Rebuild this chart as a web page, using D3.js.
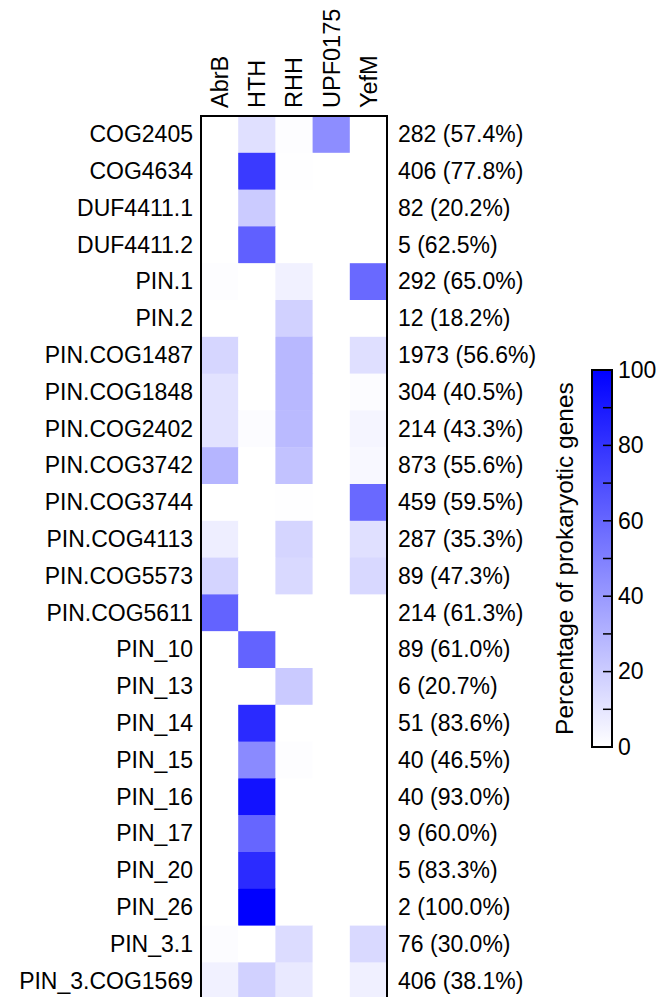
<!DOCTYPE html>
<html><head><meta charset="utf-8">
<script src="https://cdn.jsdelivr.net/npm/d3@7"></script>
<style>body{margin:0;background:#fff}svg{display:block}text{font-family:"Liberation Sans",Arial,sans-serif;fill:#000}</style>
</head><body><svg id="c" width="666" height="997"></svg>
<script>
const columns = ["AbrB","HTH","RHH","UPF0175","YefM"];
const rows = ["COG2405","COG4634","DUF4411.1","DUF4411.2","PIN.1","PIN.2","PIN.COG1487","PIN.COG1848","PIN.COG2402","PIN.COG3742","PIN.COG3744","PIN.COG4113","PIN.COG5573","PIN.COG5611","PIN_10","PIN_13","PIN_14","PIN_15","PIN_16","PIN_17","PIN_20","PIN_26","PIN_3.1","PIN_3.COG1569"];
const abrB    = [0,0,0,0,0.8,0,16,11.5,11.5,29,0,6.5,17,61.3,0,0,0,0,0,0,0,0,1.2,5.5];
const hth     = [12,77.3,20.2,62.5,0,0,0,0,1,0,0,0,0,0,61,0,83.6,45.8,93,60,83.3,100,0,18];
const rhh     = [0.8,0.5,0,0,5.5,18.2,28,28,27,23.8,0.5,16.5,15,0,0,20.7,0,0.7,0,0,0,0,13.8,8.8];
const upf0175 = [44.6,0,0,0,0,0,0,0,0,0,0,0,0,0,0,0,0,0,0,0,0,0,0,0];
const yefM    = [0,0,0,0,58.7,0,12.6,1,3.8,2.8,59,12.3,15.3,0,0,0,0,0,0,0,0,0,15,5.8];
const counts  = [282,406,82,5,292,12,1973,304,214,873,459,287,89,214,89,6,51,40,40,9,5,2,76,406];
const percents= ["57.4","77.8","20.2","62.5","65.0","18.2","56.6","40.5","43.3","55.6","59.5","35.3","47.3","61.3","61.0","20.7","83.6","46.5","93.0","60.0","83.3","100.0","30.0","38.1"];
const colorbarTicks = [0,20,40,60,80,100];
const colorbarMinorTicks = [10,30,50,70,90];
const colorbarTitle = "Percentage of prokaryotic genes";

const series = [abrB,hth,rhh,upf0175,yefM];
const cells = [];
rows.forEach((r,i)=>columns.forEach((c,j)=>cells.push({row:r,col:c,v:series[j][i]})));

const svg = d3.select("#c");
const FS = 23;
const hmLeft = 201, hmTop = 116, cellW = 37.2, cellH = 36.8;
const x = d3.scaleBand().domain(columns).range([hmLeft, hmLeft + cellW*columns.length]);
const y = d3.scaleBand().domain(rows).range([hmTop, hmTop + cellH*rows.length]);
const color = d3.scaleLinear().domain([0,100]).range(["#ffffff","#0000ff"]).interpolate(d3.interpolateRgb);

svg.append("g").selectAll("rect").data(cells).join("rect")
  .attr("x", d=>x(d.col)).attr("y", d=>y(d.row))
  .attr("width", x.bandwidth()+0.5).attr("height", y.bandwidth()+0.5)
  .attr("fill", d=>color(d.v));

svg.append("rect").attr("x", x.range()[0]).attr("y", hmTop)
  .attr("width", x.range()[1]-x.range()[0]).attr("height", y.range()[1]-hmTop)
  .attr("fill","none").attr("stroke","#000").attr("stroke-width",2);

svg.append("g").selectAll("text").data(rows).join("text")
  .attr("x", hmLeft-8).attr("y", d=>y(d)+y.bandwidth()/2).attr("dy","0.34em")
  .attr("text-anchor","end").attr("font-size",FS).text(d=>d);

svg.append("g").selectAll("text").data(rows).join("text")
  .attr("x", x.range()[1]+11).attr("y", (d)=>y(d)+y.bandwidth()/2).attr("dy","0.34em")
  .attr("font-size",FS).text((d,i)=>`${counts[i]} (${percents[i]}%)`);

svg.append("g").selectAll("text").data(columns).join("text")
  .attr("transform", d=>`translate(${x(d)+x.bandwidth()/2},${hmTop-8}) rotate(-90)`)
  .attr("dy","0.36em").attr("font-size",FS+0.5).text(d=>d);

const cbX = 592, cbW = 20, cbTop = 370, cbBot = 747;
const cy = d3.scaleLinear().domain([0,100]).range([cbBot, cbTop]);
const defs = svg.append("defs");
const grad = defs.append("linearGradient").attr("id","cbg").attr("x1",0).attr("y1",1).attr("x2",0).attr("y2",0);
grad.append("stop").attr("offset",0).attr("stop-color",color(0));
grad.append("stop").attr("offset",1).attr("stop-color",color(100));
svg.append("rect").attr("x",cbX).attr("y",cbTop).attr("width",cbW).attr("height",cbBot-cbTop)
  .attr("fill","url(#cbg)").attr("stroke","#000").attr("stroke-width",2);
const cbAxis = d3.axisRight(cy).tickValues(colorbarTicks).tickSize(0).tickPadding(6);
const ga = svg.append("g").attr("transform",`translate(${cbX+cbW},0)`).call(cbAxis);
ga.select(".domain").remove();
ga.selectAll("text").attr("font-size",FS).attr("font-family",'"Liberation Sans",Arial,sans-serif').attr("fill","#000");
svg.append("g").selectAll("line").data(colorbarTicks.concat(colorbarMinorTicks).filter(t=>t>0&&t<100)).join("line")
  .attr("x1",cbX+cbW-9).attr("x2",cbX+cbW).attr("y1",d=>cy(d)).attr("y2",d=>cy(d))
  .attr("stroke","#000").attr("stroke-width",1.5);
svg.append("text").attr("transform",`translate(573,${(cbTop+cbBot)/2}) rotate(-90)`)
  .attr("text-anchor","middle").attr("font-size",FS+1.5).text(colorbarTitle);
</script></body></html>
